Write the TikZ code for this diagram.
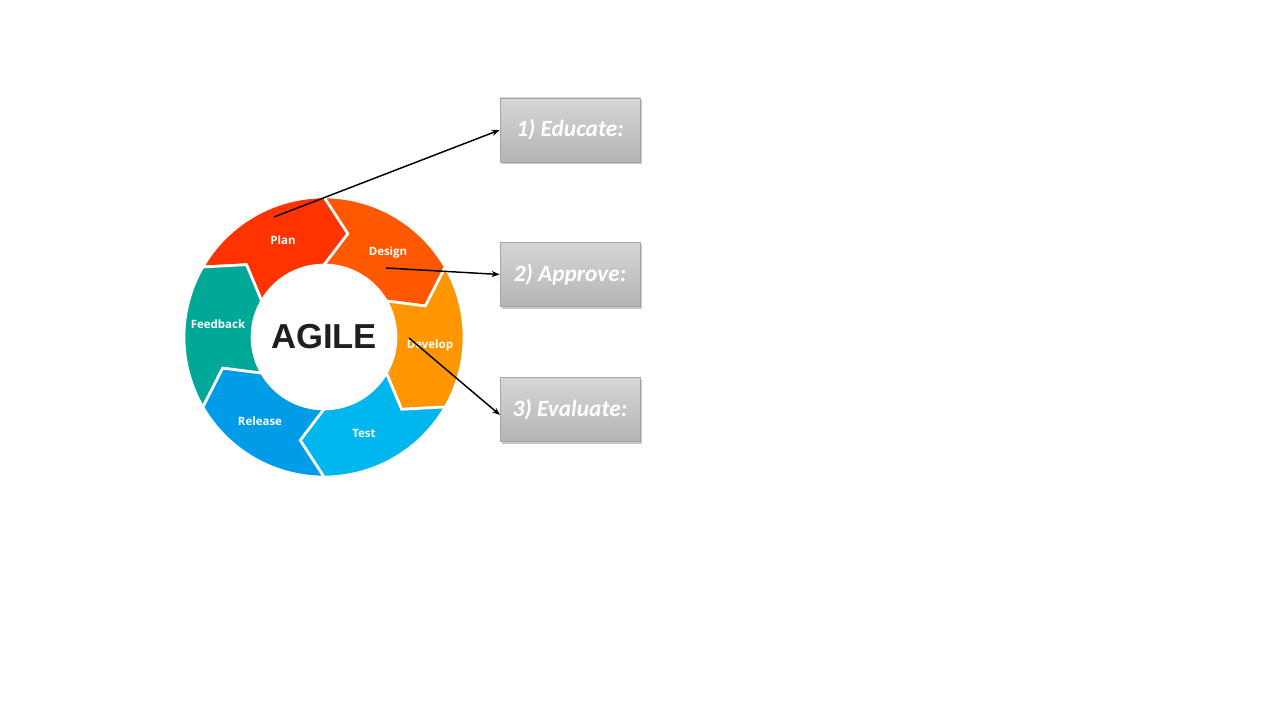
\documentclass[tikz,border=0pt]{standalone}
\usepackage{fontspec}
\setmainfont{Liberation Sans}
\newfontfamily\boxfont{Carlito}
\newfontfamily\labfont{Open Sans}
\usetikzlibrary{shadows,arrows.meta,calc}
\definecolor{cplan}{RGB}{255,51,0}
\definecolor{cdesign}{RGB}{255,88,0}
\definecolor{cdevelop}{RGB}{255,150,0}
\definecolor{ctest}{RGB}{0,182,238}
\definecolor{crelease}{RGB}{0,156,232}
\definecolor{cfeedback}{RGB}{0,168,152}
\definecolor{boxtop}{RGB}{214,214,214}
\definecolor{boxbot}{RGB}{180,180,180}
\definecolor{boxline}{RGB}{165,165,165}
\tikzset{
  seg/.style={fill=#1, draw=white, line width=2pt, line join=miter},
  seglabel/.style={text=white, font=\labfont\bfseries\fontsize{8.6}{10}\selectfont},
  stepbox/.style={minimum width=105pt, minimum height=48pt, inner sep=0pt,
    draw=boxline, line width=0.5pt, top color=boxtop, bottom color=boxbot,
    drop shadow={shadow xshift=1.8pt, shadow yshift=-1.8pt, opacity=0.3, fill=black!70},
    text=white, font=\boxfont\bfseries\itshape\fontsize{17.5}{20}\selectfont},
  conn/.style={-{Stealth[length=6pt,width=4.5pt]}, line width=1.1pt, black}
}
\newcommand{\segpath}[2]{%
  (#1:105pt) arc[start angle=#1, end angle=#2, radius=105pt]
  -- (#2-13:79.5pt) -- (#2:54pt)
  arc[start angle=#2, end angle=#1, radius=54pt]
  -- (#1-13:79.5pt) -- cycle}
\begin{document}
\begin{tikzpicture}[x=0.75pt,y=0.75pt]
\useasboundingbox (0,0) rectangle (1280,720);
\fill[white] (0,0) rectangle (1280,720);
% wheel
\begin{scope}[shift={(324,383)}]
  \path[seg=cplan] \segpath{150}{90};
  \path[seg=cdesign] \segpath{90}{30};
  \path[seg=cdevelop] \segpath{30}{-30};
  \path[seg=ctest] \segpath{-30}{-90};
  \path[seg=crelease] \segpath{-90}{-150};
  \path[seg=cfeedback] \segpath{210}{150};
\end{scope}
\node[font=\bfseries\fontsize{26}{30}\selectfont, text={black!88}] (agile) at (324,383) {AGILE};
\node[seglabel] (plan) at (283,480) {Plan};
\node[seglabel] (design) at (388,467) {Design};
\node[seglabel] (develop) at (430,374) {Develop};
\node[seglabel] (test) at (364,287) {Test};
\node[seglabel] (release) at (260,299) {Release};
\node[seglabel] (feedback) at (218,396) {Feedback};
% boxes
\node[stepbox] (b1) at (570,590) {1) Educate:};
\node[stepbox] (b2) at (570,445.5) {2) Approve:};
\node[stepbox] (b3) at (570,310.5) {3) Evaluate:};
% arrow start points
\coordinate (s1) at (274,503);
\coordinate (s2) at (386,452);
\coordinate (s3) at (409,382);
\coordinate (e3) at (500,305);
\draw[conn] (s1) -- (b1.west);
\draw[conn] (s2) -- (b2.west);
\draw[conn] (s3) -- (e3);
\end{tikzpicture}
\end{document}
